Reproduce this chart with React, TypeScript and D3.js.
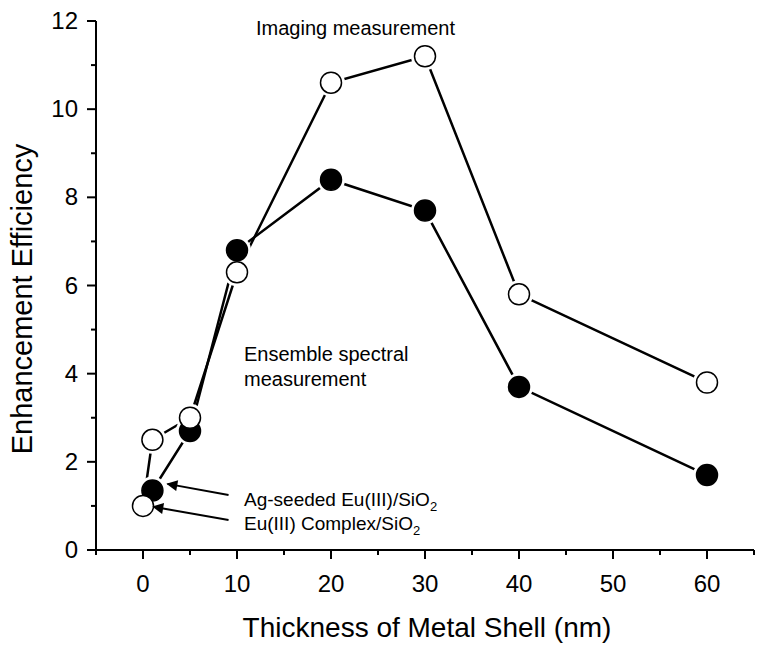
import React from "react";
import * as d3 from "d3";

const openX = [0, 1, 5, 10, 20, 30, 40, 60];
const openY = [1.0, 2.5, 3.0, 6.3, 10.6, 11.2, 5.8, 3.8];
const filledX = [1, 5, 10, 20, 30, 40, 60];
const filledY = [1.35, 2.7, 6.8, 8.4, 7.7, 3.7, 1.7];
const xTicks = [0, 10, 20, 30, 40, 50, 60];
const xMinor = [-5, 5, 15, 25, 35, 45, 55, 65];
const yTicks = [0, 2, 4, 6, 8, 10, 12];
const yMinor = [1, 3, 5, 7, 9, 11];

const W = 763, H = 652;
const FONT = "'Liberation Sans', Arial, Helvetica, sans-serif";

export default function App() {
  const x = d3.scaleLinear().domain([-5, 65]).range([96, 754]);
  const y = d3.scaleLinear().domain([0, 12]).range([550, 21]);
  const line = d3.line<[number, number]>().x(d => x(d[0])).y(d => y(d[1]));
  const openPts: [number, number][] = openX.map((v, i) => [v, openY[i]]);
  const filledPts: [number, number][] = filledX.map((v, i) => [v, filledY[i]]);
  const r = 10.5;

  const arrows = [
    { from: [9.1, 1.25], to: [2.6, 1.5], label: "Ag-seeded Eu(III)/SiO", ly: 506 },
    { from: [9.1, 0.68], to: [1.1, 0.98], label: "Eu(III) Complex/SiO", ly: 530 },
  ];

  return (
    <svg width={W} height={H} style={{ position: "absolute", left: 0, top: 0, background: "#fff" }} fontFamily={FONT}>
      <defs>
        <marker id="ah" viewBox="0 0 10 10" refX="9" refY="5" markerWidth="14" markerHeight="11" markerUnits="userSpaceOnUse" orient="auto">
          <path d="M0,0 L10,5 L0,10 Z" fill="#000" />
        </marker>
      </defs>
      <rect width={W} height={H} fill="#fff" />
      {/* axes */}
      <line x1={x(-5)} x2={x(65)} y1={y(0)} y2={y(0)} stroke="#000" strokeWidth={2} />
      <line x1={x(-5)} x2={x(-5)} y1={y(0)} y2={y(12)} stroke="#000" strokeWidth={2} />
      {xTicks.map(t => (
        <g key={"xt" + t}>
          <line x1={x(t)} x2={x(t)} y1={y(0)} y2={y(0) + 9} stroke="#000" strokeWidth={2} />
          <text x={x(t)} y={592} fontSize={24} textAnchor="middle">{t}</text>
        </g>
      ))}
      {xMinor.map(t => (
        <line key={"xm" + t} x1={x(t)} x2={x(t)} y1={y(0)} y2={y(0) + 5} stroke="#000" strokeWidth={2} />
      ))}
      {yTicks.map(t => (
        <g key={"yt" + t}>
          <line x1={x(-5) - 9} x2={x(-5)} y1={y(t)} y2={y(t)} stroke="#000" strokeWidth={2} />
          <text x={78} y={y(t) + 8} fontSize={24} textAnchor="end">{t}</text>
        </g>
      ))}
      {yMinor.map(t => (
        <line key={"ym" + t} x1={x(-5) - 5} x2={x(-5)} y1={y(t)} y2={y(t)} stroke="#000" strokeWidth={2} />
      ))}
      <text x={427} y={637} fontSize={28} textAnchor="middle">Thickness of Metal Shell (nm)</text>
      <text transform="translate(32,299) rotate(-90)" fontSize={29} textAnchor="middle">Enhancement Efficiency</text>

      {/* lines */}
      <path d={line(openPts) || ""} fill="none" stroke="#000" strokeWidth={2.5} />
      <path d={line(filledPts) || ""} fill="none" stroke="#000" strokeWidth={2.5} />

      {/* gaps around markers */}
      {[...openPts, ...filledPts].map((p, i) => (
        <circle key={"g" + i} cx={x(p[0])} cy={y(p[1])} r={r + 3.5} fill="#fff" />
      ))}
      {filledPts.map((p, i) => (
        <circle key={"f" + i} cx={x(p[0])} cy={y(p[1])} r={r} fill="#000" stroke="#000" strokeWidth={1.5} />
      ))}
      {openPts.map((p, i) => (
        <circle key={"o" + i} cx={x(p[0])} cy={y(p[1])} r={r} fill="#fff" stroke="#000" strokeWidth={1.5} />
      ))}

      {/* annotations */}
      <text x={256} y={35} fontSize={20}>Imaging measurement</text>
      <text x={244} y={361} fontSize={20}>Ensemble spectral</text>
      <text x={244} y={386} fontSize={20}>measurement</text>
      {arrows.map((a, i) => (
        <g key={"a" + i}>
          <line x1={x(a.from[0])} y1={y(a.from[1])} x2={x(a.to[0])} y2={y(a.to[1])} stroke="#000" strokeWidth={2} markerEnd="url(#ah)" />
          <text x={244} y={a.ly} fontSize={19}>
            {a.label}
            <tspan fontSize={13} dy={5}>2</tspan>
          </text>
        </g>
      ))}
    </svg>
  );
}
